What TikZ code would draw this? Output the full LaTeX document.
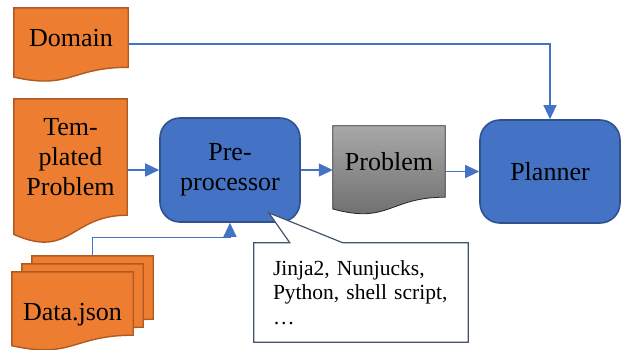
\documentclass[tikz,border=0pt]{standalone}
\usepackage{fontspec}
\setmainfont{Liberation Serif}
\usepackage{xcolor}
\usetikzlibrary{arrows.meta,calc}

\definecolor{docorange}{HTML}{ED7D31}
\definecolor{docedge}{HTML}{AE5A21}
\definecolor{boxblue}{HTML}{4472C4}
\definecolor{boxedge}{HTML}{2F528F}
\definecolor{noteedge}{HTML}{44546A}
\definecolor{probtop}{HTML}{A8A8A8}
\definecolor{probbot}{HTML}{6A6A6A}

\pgfdeclarelayer{background}
\pgfdeclarelayer{front}
\pgfsetlayers{background,main,front}

% sheet with a wavy bottom edge, built on the body node #2
\newcommand{\drawdoc}[2]{%
  \draw[#1] (#2.north west) -- (#2.north east) -- (#2.south east)
    .. controls (#2.south) and ($(#2.north)!1.381!(#2.south)$)
    .. ($(#2.north west)!1.165!(#2.south west)$) -- cycle;}

\begin{document}
\begin{tikzpicture}[x=1pt,y=-1pt,
    big/.style={font=\fontsize{26}{30}\selectfont},
    doc/.style={big,minimum width=114pt,inner sep=0pt,align=center},
    orangedoc/.style={fill=docorange,draw=docedge,line width=1.4pt},
    proc/.style={big,rectangle,rounded corners=20pt,fill=boxblue,draw=boxedge,
      line width=1.6pt,minimum width=140pt,minimum height=104pt,align=center},
    flow/.style={draw=boxblue,line width=1.2pt,-{Triangle[length=14pt,width=13pt]}}]
    \useasboundingbox (0,0) rectangle (622,349);

    % Inputs
    \node[doc,minimum height=59pt] (domain) at (71,37.6) {Domain};
    \node[doc,minimum width=113pt,minimum height=116pt] (templ) at (70.5,157) {Tem-\\plated\\Problem};
    \node[doc,minimum width=121pt,minimum height=63pt] (dback) at (92.5,287.5) {};
    \node[doc,minimum width=121pt,minimum height=63pt] (dmid) at (82.5,295.5) {};
    \node[doc,minimum width=121pt,minimum height=63pt,text height=39pt] (data) at (72.5,303.5) {Data.json};

    % Intermediate problem file
    \node[doc,minimum width=112pt,minimum height=71pt] (prob) at (389,161.5) {Problem};

    \begin{pgfonlayer}{background}
        \drawdoc{orangedoc}{domain}
        \drawdoc{orangedoc}{templ}
        \drawdoc{orangedoc}{dback}
        \drawdoc{orangedoc}{dmid}
        \drawdoc{orangedoc}{data}
        \drawdoc{top color=probtop,bottom color=probbot,draw=black!85,line width=0.8pt}{prob}
    \end{pgfonlayer}

    % Tools
    \node[proc] (pre) at (230,170) {Pre-\\processor};
    \node[proc,minimum height=103pt] (planner) at (550,171.5) {Planner};

    % Flows
    \draw[flow] ([yshift=-6.4pt]domain.east) -| (planner.north);
    \draw[flow] (templ.east |- pre.west) -- (pre.west);
    \draw[flow] (dback.north) -- ++(0,-18) -| (pre.south);
    \draw[flow] (pre.east) -- (pre.east -| prob.west);
    \draw[flow] (prob.east |- planner.west) -- (planner.west);

    % Callout on the pre-processor
    \begin{pgfonlayer}{front}
        \node[font=\fontsize{21.5}{24.5}\selectfont,minimum width=214pt,minimum height=99pt,
          text width=176pt,align=left,inner sep=0pt] (note) at (361,292.5)
          {Jinja2, Nunjucks,\\Python, shell script,\\…};
    \end{pgfonlayer}
    \coordinate (tip) at ($(pre.south east)+(-32,-10)$);
    \filldraw[fill=white,draw=noteedge,line width=1.2pt,line join=miter]
      (note.north west) -- ($(note.north west)+(36,0)$) -- (tip)
      -- ($(note.north west)+(89,0)$) -- (note.north east)
      -- (note.south east) -- (note.south west) -- cycle;
\end{tikzpicture}
\end{document}
